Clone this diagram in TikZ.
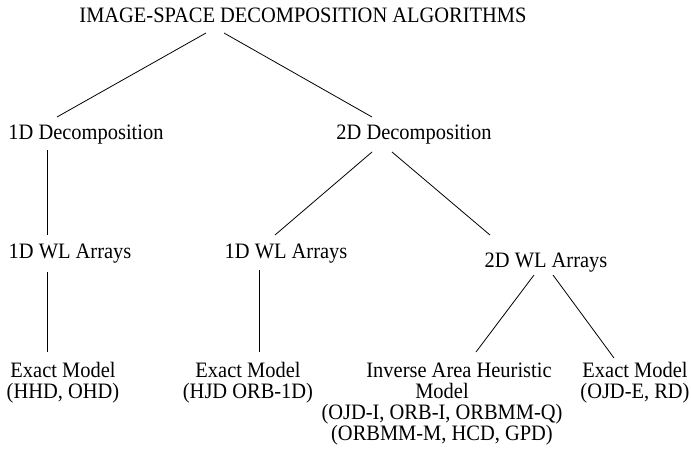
\documentclass[tikz,border=0pt]{standalone}
\usepackage{fontspec}
\setmainfont[FakeStretch=0.93]{Liberation Serif}
\begin{document}
\begin{tikzpicture}[x=1pt,y=-1pt,
  lbl/.style={font=\fontsize{22pt}{21pt}\selectfont, inner sep=0pt, anchor=base, align=center},
  conn/.style={draw=black, line width=0.8pt}]
\useasboundingbox[fill=white] (0,0) rectangle (691,453);
% nodes (multi-line nodes are placed by the baseline of their last line)
\node[lbl] (title) at (303,22) {IMAGE-SPACE DECOMPOSITION ALGORITHMS};
\node[lbl] (d1) at (86,139) {1D Decomposition};
\node[lbl] (d2) at (414,139) {2D Decomposition};
\node[lbl] (a1) at (70,258) {1D WL Arrays};
\node[lbl] (a2) at (286,258) {1D WL Arrays};
\node[lbl] (a3) at (546,267) {2D WL Arrays};
\node[lbl] (e1) at (63,398) {Exact Model\\(HHD, OHD)};
\node[lbl] (e2) at (248,398) {Exact Model\\(HJD ORB-1D)};
\node[lbl] (e3) at (442,440) {\hspace*{34pt}Inverse Area Heuristic\\Model\hspace*{28pt}\\(OJD-I, ORB-I, ORBMM-Q)\\(ORBMM-M, HCD, GPD)};
\node[lbl] (e4) at (635,398) {Exact Model\\(OJD-E, RD)};
% connectors
\draw[conn] ([shift={(-97,11)}]title.base) -- ([shift={(-29,-22)}]d1.base);
\draw[conn] ([shift={(-79,11)}]title.base) -- ([shift={(-42,-22)}]d2.base);
\draw[conn] ([shift={(-39,11)}]d1.base) -- ([shift={(-23,-23)}]a1.base);
\draw[conn] ([shift={(-42,13)}]d2.base) -- ([shift={(-11,-23)}]a2.base);
\draw[conn] ([shift={(-22,13)}]d2.base) -- ([shift={(-56,-32)}]a3.base);
\draw[conn] ([shift={(-23,14)}]a1.base) -- ([shift={(-16,-46)}]e1.base);
\draw[conn] ([shift={(-27,12)}]a2.base) -- ([shift={(11,-46)}]e2.base);
\draw[conn] ([shift={(-12,8)}]a3.base) -- ([shift={(34,-88)}]e3.base);
\draw[conn] ([shift={(7,8)}]a3.base) -- ([shift={(-21,-40)}]e4.base);
\end{tikzpicture}
\end{document}
